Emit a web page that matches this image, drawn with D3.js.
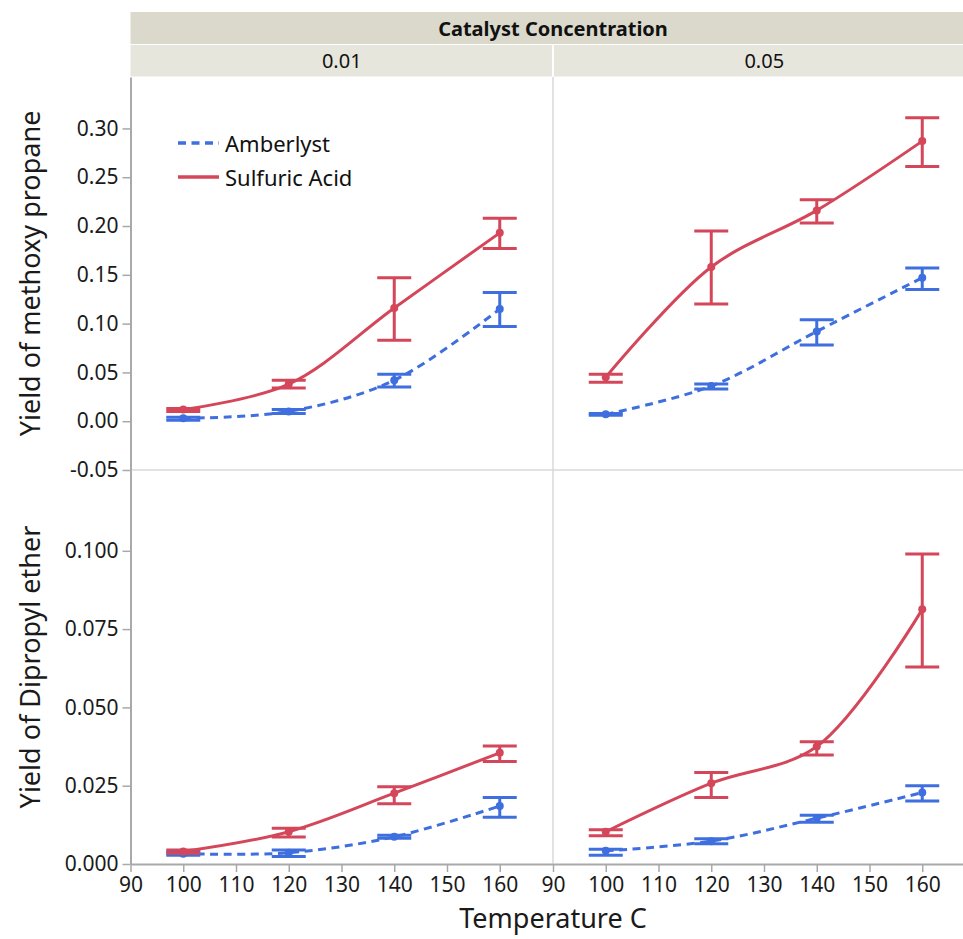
<!DOCTYPE html>
<html>
<head>
<meta charset="utf-8">
<script src="https://cdn.jsdelivr.net/npm/d3@7"></script>
<style>
  body { margin: 0; background: #fff; }
  svg { display: block; }
  text { font-family: "Segoe UI", "Noto Sans", "Open Sans", sans-serif; }
</style>
</head>
<body>
<svg id="chart" width="963" height="939"></svg>
<script>
// ---- data -------------------------------------------------------------
const temperatures = [100, 120, 140, 160];
const xTickValues = [90, 100, 110, 120, 130, 140, 150, 160];
const concentrations = ["0.01", "0.05"];
const responses = ["Yield of methoxy propane", "Yield of Dipropyl ether"];
const catalysts = ["Amberlyst", "Sulfuric Acid"];
const methoxyTicks = [-0.05, 0, 0.05, 0.10, 0.15, 0.20, 0.25, 0.30];
const etherTicks = [0, 0.025, 0.05, 0.075, 0.10];

// methoxy propane, catalyst concentration 0.01
const methoxyAmberlyst01Mean = [0.003, 0.010, 0.042, 0.115];
const methoxyAmberlyst01Low  = [0.001, 0.008, 0.035, 0.097];
const methoxyAmberlyst01High = [0.004, 0.012, 0.048, 0.132];
const methoxySulfuric01Mean  = [0.012, 0.038, 0.116, 0.193];
const methoxySulfuric01Low   = [0.010, 0.034, 0.083, 0.177];
const methoxySulfuric01High  = [0.013, 0.042, 0.147, 0.208];

// methoxy propane, catalyst concentration 0.05
const methoxyAmberlyst05Mean = [0.007, 0.036, 0.092, 0.147];
const methoxyAmberlyst05Low  = [0.006, 0.033, 0.078, 0.135];
const methoxyAmberlyst05High = [0.008, 0.038, 0.104, 0.157];
const methoxySulfuric05Mean  = [0.045, 0.158, 0.216, 0.287];
const methoxySulfuric05Low   = [0.040, 0.120, 0.203, 0.261];
const methoxySulfuric05High  = [0.048, 0.195, 0.227, 0.311];

// dipropyl ether, catalyst concentration 0.01
const etherAmberlyst01Mean = [0.0033, 0.0036, 0.0087, 0.0185];
const etherAmberlyst01Low  = [0.0028, 0.0024, 0.0082, 0.0149];
const etherAmberlyst01High = [0.0038, 0.0045, 0.0092, 0.0212];
const etherSulfuric01Mean  = [0.0040, 0.0103, 0.0226, 0.0355];
const etherSulfuric01Low   = [0.0034, 0.0086, 0.0192, 0.0327];
const etherSulfuric01High  = [0.0045, 0.0114, 0.0247, 0.0377];

// dipropyl ether, catalyst concentration 0.05
const etherAmberlyst05Mean = [0.0042, 0.0073, 0.0146, 0.0228];
const etherAmberlyst05Low  = [0.0028, 0.0065, 0.0133, 0.0201];
const etherAmberlyst05High = [0.0047, 0.0081, 0.0156, 0.0250];
const etherSulfuric05Mean  = [0.0103, 0.0258, 0.0375, 0.0813];
const etherSulfuric05Low   = [0.0090, 0.0212, 0.0348, 0.0629];
const etherSulfuric05High  = [0.0109, 0.0292, 0.0390, 0.0990];

// ---- layout -----------------------------------------------------------
const svg = d3.select("#chart");
const plotLeft = 130.5;
const colWidth = 422.5;
const headerTop = 12, headerMid = 44.5, headerBottom = 77;
const rowTops = [77, 470];
const rowBottoms = [470, 864];
const colors = { "Amberlyst": "#3f6fde", "Sulfuric Acid": "#d4475a" };
const dashes = { "Amberlyst": "8,5.5", "Sulfuric Acid": null };
const fullRight = plotLeft + 2 * colWidth;

const xScales = concentrations.map((c, i) =>
  d3.scaleLinear().domain([90, 170])
    .range([plotLeft + i * colWidth, plotLeft + i * colWidth + 422]));

const yScales = [
  d3.scaleLinear().domain([-0.05, 0.3527]).range([rowBottoms[0], rowTops[0]]),
  d3.scaleLinear().domain([0, 0.1258]).range([rowBottoms[1], rowTops[1]])
];
const yTicks = [methoxyTicks, etherTicks];
const yFormats = [d3.format(".2f"), d3.format(".3f")];

function makeSeries(mean, low, high) {
  return temperatures.map((t, i) => ({ t, mean: mean[i], low: low[i], high: high[i] }));
}

const panels = [
  { row: 0, col: 0, series: {
      "Amberlyst": makeSeries(methoxyAmberlyst01Mean, methoxyAmberlyst01Low, methoxyAmberlyst01High),
      "Sulfuric Acid": makeSeries(methoxySulfuric01Mean, methoxySulfuric01Low, methoxySulfuric01High) } },
  { row: 0, col: 1, series: {
      "Amberlyst": makeSeries(methoxyAmberlyst05Mean, methoxyAmberlyst05Low, methoxyAmberlyst05High),
      "Sulfuric Acid": makeSeries(methoxySulfuric05Mean, methoxySulfuric05Low, methoxySulfuric05High) } },
  { row: 1, col: 0, series: {
      "Amberlyst": makeSeries(etherAmberlyst01Mean, etherAmberlyst01Low, etherAmberlyst01High),
      "Sulfuric Acid": makeSeries(etherSulfuric01Mean, etherSulfuric01Low, etherSulfuric01High) } },
  { row: 1, col: 1, series: {
      "Amberlyst": makeSeries(etherAmberlyst05Mean, etherAmberlyst05Low, etherAmberlyst05High),
      "Sulfuric Acid": makeSeries(etherSulfuric05Mean, etherSulfuric05Low, etherSulfuric05High) } }
];

// ---- header bands -----------------------------------------------------
svg.append("rect")
  .attr("x", plotLeft).attr("y", headerTop)
  .attr("width", fullRight - plotLeft).attr("height", headerMid - headerTop - 0.5)
  .attr("fill", "#dbd9cb");
svg.append("text")
  .attr("x", (plotLeft + fullRight) / 2).attr("y", (headerTop + headerMid) / 2)
  .attr("text-anchor", "middle").attr("dominant-baseline", "central")
  .attr("font-size", 20).attr("font-weight", "bold").attr("fill", "#111")
  .text("Catalyst Concentration");

concentrations.forEach((c, i) => {
  const x0 = plotLeft + i * colWidth;
  svg.append("rect")
    .attr("x", x0 + (i ? 1 : 0)).attr("y", headerMid + 0.5)
    .attr("width", colWidth - 1).attr("height", headerBottom - headerMid - 1)
    .attr("fill", "#e7e6dd");
  svg.append("text")
    .attr("x", x0 + colWidth / 2).attr("y", (headerMid + headerBottom) / 2)
    .attr("text-anchor", "middle").attr("dominant-baseline", "central")
    .attr("font-size", 20).attr("fill", "#111")
    .text(c);
});

// ---- panel separators -------------------------------------------------
svg.append("line")
  .attr("x1", plotLeft + colWidth).attr("x2", plotLeft + colWidth)
  .attr("y1", headerBottom).attr("y2", rowBottoms[1])
  .attr("stroke", "#d9d9d9").attr("stroke-width", 1.5);
svg.append("line")
  .attr("x1", plotLeft).attr("x2", fullRight)
  .attr("y1", rowBottoms[0]).attr("y2", rowBottoms[0])
  .attr("stroke", "#d9d9d9").attr("stroke-width", 1.5);

// ---- axes ---------------------------------------------------------------
function styleAxis(g) {
  g.select(".domain").attr("stroke", "#a9a9a9").attr("stroke-width", 2);
  g.selectAll(".tick line").attr("stroke", "#a9a9a9").attr("stroke-width", 1.5);
  g.selectAll(".tick text").attr("fill", "#1a1a1a")
    .style("font-family", '"Segoe UI", "Noto Sans", sans-serif');
}

yScales.forEach((y, r) => {
  const g = svg.append("g")
    .attr("transform", `translate(${plotLeft},0)`)
    .call(d3.axisLeft(y).tickValues(yTicks[r])
      .tickFormat(d => yFormats[r](d).replace("\u2212", "-"))
      .tickSize(8).tickSizeOuter(0).tickPadding(4));
  g.attr("font-size", 21);
  styleAxis(g);

  const midY = (rowTops[r] + rowBottoms[r]) / 2;
  svg.append("text")
    .attr("transform", `translate(40,${midY}) rotate(-90)`)
    .attr("text-anchor", "middle")
    .attr("font-size", 27).attr("fill", "#1a1a1a")
    .text(responses[r]);
});

xScales.forEach(x => {
  const g = svg.append("g")
    .attr("transform", `translate(0,${rowBottoms[1]})`)
    .call(d3.axisBottom(x).tickValues(xTickValues)
      .tickSize(8).tickSizeOuter(0).tickPadding(5));
  g.attr("font-size", 21);
  styleAxis(g);
});

svg.append("text")
  .attr("x", (plotLeft + fullRight) / 2).attr("y", 928)
  .attr("text-anchor", "middle")
  .attr("font-size", 27).attr("fill", "#1a1a1a")
  .text("Temperature C");

// ---- series: smoothed mean lines, interval bars, mean points -------------
panels.forEach(p => {
  const x = xScales[p.col];
  const y = yScales[p.row];
  const g = svg.append("g");
  catalysts.forEach(cat => {
    const data = p.series[cat];
    const color = colors[cat];
    const line = d3.line().x(d => x(d.t)).y(d => y(d.mean))
      .curve(d3.curveCatmullRom.alpha(0.5));
    g.append("path").datum(data)
      .attr("d", line).attr("fill", "none")
      .attr("stroke", color).attr("stroke-width", 3)
      .attr("stroke-dasharray", dashes[cat]);

    const bars = g.selectAll(null).data(data).enter().append("g")
      .attr("stroke", color).attr("stroke-width", 3);
    bars.append("line")
      .attr("x1", d => x(d.t)).attr("x2", d => x(d.t))
      .attr("y1", d => y(d.low)).attr("y2", d => y(d.high));
    bars.append("line")
      .attr("x1", d => x(d.t) - 17).attr("x2", d => x(d.t) + 17)
      .attr("y1", d => y(d.low)).attr("y2", d => y(d.low));
    bars.append("line")
      .attr("x1", d => x(d.t) - 17).attr("x2", d => x(d.t) + 17)
      .attr("y1", d => y(d.high)).attr("y2", d => y(d.high));

    g.selectAll(null).data(data).enter().append("circle")
      .attr("cx", d => x(d.t)).attr("cy", d => y(d.mean))
      .attr("r", 4).attr("fill", color);
  });
});

// ---- legend ---------------------------------------------------------------
const legend = svg.append("g").attr("transform", "translate(178,143)");
catalysts.forEach((cat, i) => {
  const row = legend.append("g").attr("transform", `translate(0,${i * 34})`);
  row.append("line")
    .attr("x1", 0).attr("x2", 41).attr("y1", 0).attr("y2", 0)
    .attr("stroke", colors[cat]).attr("stroke-width", 3.5)
    .attr("stroke-dasharray", dashes[cat]);
  row.append("text")
    .attr("x", 47).attr("y", 0).attr("dominant-baseline", "central")
    .attr("font-size", 22).attr("fill", "#111")
    .text(cat);
});
</script>
</body>
</html>
